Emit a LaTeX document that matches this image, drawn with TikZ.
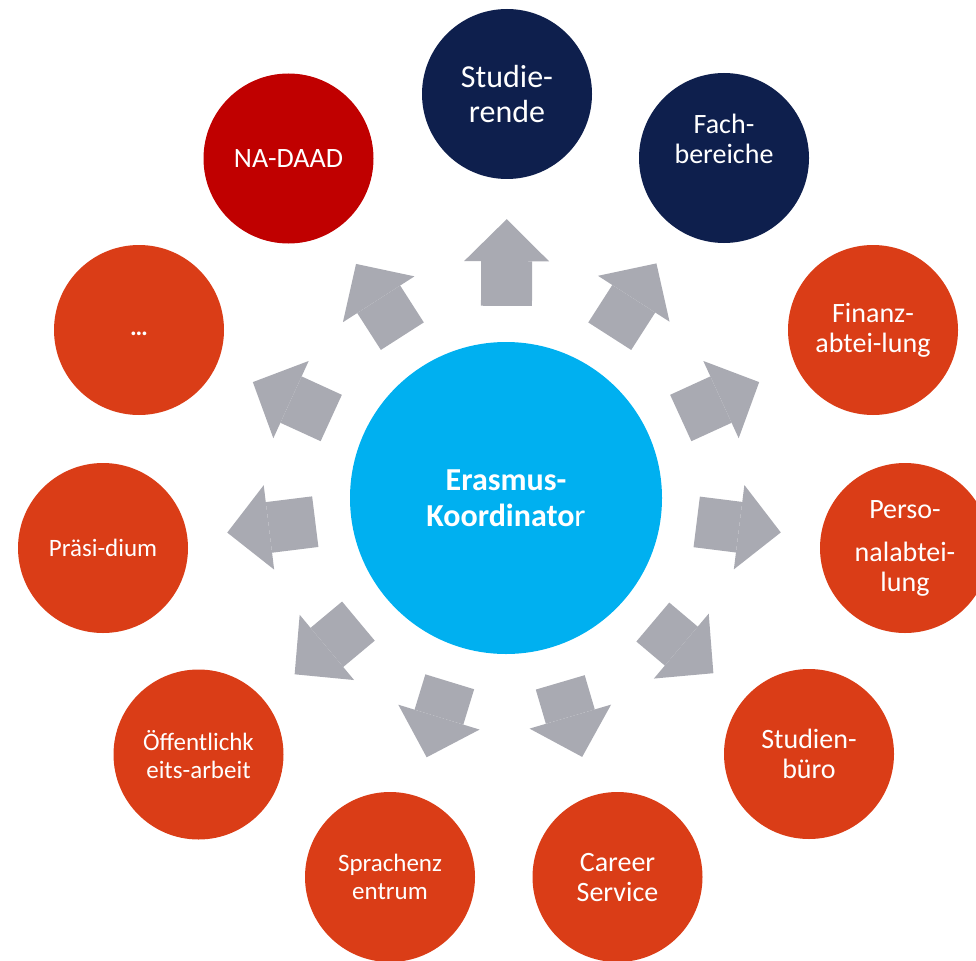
\documentclass[tikz,border=0pt]{standalone}
\usepackage{fontspec}
\setmainfont{Carlito}
\usetikzlibrary{arrows.meta}

\definecolor{navy}{HTML}{0E1F4D}
\definecolor{darkred}{HTML}{C00000}
\definecolor{rust}{HTML}{DA3D17}
\definecolor{skyblue}{HTML}{00B0F0}
\definecolor{arrowgrey}{HTML}{A9AAB2}

\tikzset{
  partner/.style={circle, minimum size=170pt, inner sep=0pt, align=center, text=white, font=\fontsize{28}{30}\selectfont},
  smalltext/.style={font=\fontsize{25}{28}\selectfont},
  bigarrow/.style={draw=arrowgrey, line width=51pt, shorten <=36pt, shorten >=40pt, -{Triangle[length=42pt, width=85pt, line width=0pt, color=arrowgrey]}}
}

\begin{document}
\begin{tikzpicture}[x=1pt, y=-1pt]
        \useasboundingbox (0,0) rectangle (976,960);

        % Draw circles
        \node[circle, minimum size=312pt, inner sep=0pt, align=center, fill=skyblue, text=white, font=\fontsize{32}{36}\selectfont] (koord) at (506,498) {\textbf{Erasmus-}\\\textbf{Koordinato}r};
        \node[partner, fill=navy, font=\fontsize{32}{35}\selectfont] (stud) at (507,94) {Studie-\\rende};
        \node[partner, fill=navy] (fach) at (724,158) {Fach-\\bereiche\\\strut};
        \node[partner, fill=rust] (finanz) at (873,330) {Finanz-\\abtei-lung};
        \node[partner, fill=rust] (personal) at (905,548) {Perso-\\[13pt]nalabtei-\\lung};
        \node[partner, fill=rust] (buero) at (809,754) {Studien-\\büro};
        \node[partner, fill=rust] (career) at (617.5,877) {Career\\Service};
        \node[partner, fill=rust, smalltext] (sprachen) at (390,877) {Sprachenz\\entrum};
        \node[partner, fill=rust, smalltext] (oeffentl) at (198.5,754.5) {Öffentlichk\\eits-arbeit};
        \node[partner, fill=rust, smalltext] (praesidium) at (103,548) {Präsi-dium};
        \node[partner, fill=rust, smalltext] (weitere) at (139,330) {\strut\textbf{…}};
        \node[partner, fill=darkred] (daad) at (288.5,158.5) {NA-DAAD};

        % Draw arrows
        \foreach \target in {stud, fach, finanz, personal, buero, career, sprachen, oeffentl, praesidium, weitere, daad}
          \draw[bigarrow] (koord) -- (\target);
    \end{tikzpicture}
\end{document}
